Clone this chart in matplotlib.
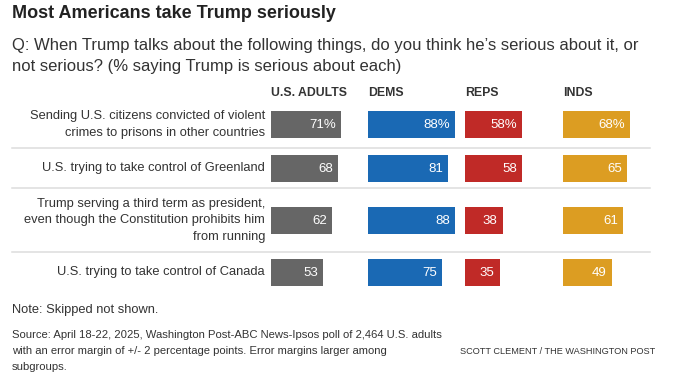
import numpy as np
import matplotlib.pyplot as plt

# Data
items = [
    "Sending U.S. citizens convicted of violent\ncrimes to prisons in other countries",
    "U.S. trying to take control of Greenland",
    "Trump serving a third term as president,\neven though the Constitution prohibits him\nfrom running",
    "U.S. trying to take control of Canada",
]
groups = ["U.S. ADULTS", "DEMS", "REPS", "INDS"]
adults = [71, 68, 62, 53]
dems = [88, 81, 88, 75]
reps = [58, 58, 38, 35]
inds = [68, 65, 61, 49]
series = [adults, dems, reps, inds]
colors = ["#666666", "#1a69b4", "#c02a27", "#dc9d22"]

# Layout (pixels)
W, H = 682, 381
col_x = [271, 368, 465, 563]
col_w = 99  # pixels for 100%
row_y = [124.5, 168.5, 220.5, 272.5]
sep_y = [148, 188, 252]
bar_h = 27
top, bottom = 100, 292

plt.rcParams['font.family'] = ['Liberation Sans', 'DejaVu Sans']
fig = plt.figure(figsize=(W / 100, H / 100), dpi=100)

# overlay axes in pixel coords for text and rules
ax0 = fig.add_axes([0, 0, 1, 1])
ax0.set_xlim(0, W)
ax0.set_ylim(H, 0)
ax0.axis("off")

txt = "#333333"
ax0.text(12, 13, "Most Americans take Trump seriously", fontsize=13,
         fontweight="bold", color="#222222", va="center")
ax0.text(12, 56, "Q: When Trump talks about the following things, do you think he\u2019s serious about it, or\n"
         "not serious? (% saying Trump is serious about each)", fontsize=12,
         color=txt, va="center", linespacing=1.5)

for y in sep_y:
    ax0.plot([12, 650], [y, y], color="#dcdcdc", lw=1.1)

for lab, y in zip(items, row_y):
    ax0.text(265, y, lab, ha="right", va="center", fontsize=9.3, color=txt,
             linespacing=1.5)

for g, x in zip(groups, col_x):
    ax0.text(x, 93, g, fontsize=8.8, fontweight="bold", color=txt, va="center")

# bar columns
for vals, x, c in zip(series, col_x, colors):
    ax = fig.add_axes([x / W, (H - bottom) / H, col_w / W, (bottom - top) / H])
    ax.set_xlim(0, 100)
    ax.set_ylim(bottom, top)
    ax.axis("off")
    ax.barh(row_y, vals, height=bar_h, color=c)
    for i, (v, y) in enumerate(zip(vals, row_y)):
        s = f"{v}%" if i == 0 else f"{v}"
        ax.text(v - 5, y, s, ha="right", va="center", color="white", fontsize=9.5)

ax0.text(12, 310, "Note: Skipped not shown.", fontsize=9.3, color=txt, va="center")
ax0.text(12, 351, "Source: April 18-22, 2025, Washington Post-ABC News-Ipsos poll of 2,464 U.S. adults\n"
         "with an error margin of +/- 2 percentage points. Error margins larger among\n"
         "subgroups.", fontsize=8.1, color=txt, va="center", linespacing=1.72)
ax0.text(460, 351, "SCOTT CLEMENT / THE WASHINGTON POST", fontsize=6.6,
         color=txt, va="center")

fig.savefig("out.png", dpi=100, facecolor="white")
